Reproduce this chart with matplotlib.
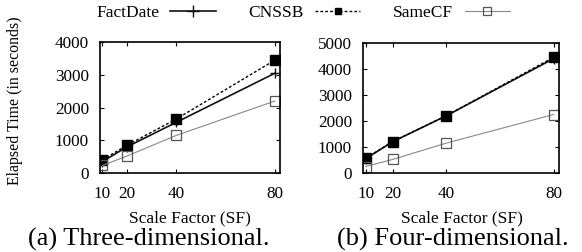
import numpy as np
import matplotlib as mpl
import matplotlib.pyplot as plt

mpl.rc('font', family='Liberation Serif')

# Data
scaleFactors = [10, 20, 40, 80]
factDate3d = [350, 800, 1550, 3050]
cnssb3d = [400, 850, 1650, 3450]
sameCF3d = [230, 520, 1150, 2200]
factDate4d = [550, 1200, 2200, 4400]
cnssb4d = [560, 1210, 2200, 4450]
sameCF4d = [250, 520, 1150, 2250]
yTicks3d = [0, 1000, 2000, 3000, 4000]
yTicks4d = [0, 1000, 2000, 3000, 4000, 5000]
captions = ["(a) Three-dimensional.", "(b) Four-dimensional."]

fig = plt.figure(figsize=(5.82, 2.52), dpi=100)
ax1 = fig.add_axes([100/582, 1-173/252, 180/582, 131/252])
ax2 = fig.add_axes([363/582, 1-173/252, 196/582, 130/252])

panels = [(ax1, factDate3d, cnssb3d, sameCF3d, yTicks3d),
          (ax2, factDate4d, cnssb4d, sameCF4d, yTicks4d)]

for ax, fd, cn, sc, yt in panels:
    ax.plot(scaleFactors, fd, c='#111111', lw=1.2, marker='+', ms=7, mew=1.0)
    ax.plot(scaleFactors, cn, c='black', lw=1.0, ls=(0, (2, 1.5)), marker='s', ms=6.5)
    ax.plot(scaleFactors, sc, c='#888888', lw=0.8, marker='s', ms=7, mfc='none', mec='#555555', mew=0.9)
    ax.set_xlim(9, 82)
    ax.set_ylim(0, yt[-1])
    ax.set_xticks(scaleFactors)
    ax.set_yticks(yt)
    ax.tick_params(direction='in', top=True, right=True, labelsize=12.3, length=3)
    ax.tick_params(axis='y', pad=8)
    ax.tick_params(axis='x', pad=9)
    for s in ax.spines.values():
        s.set_linewidth(1.2)

# axis labels and captions placed in figure coords
fig.text(15/582, 1-101/252, "Elapsed Time (in seconds)", rotation=90, ha='center', va='center', fontsize=11.4)
fig.text(190/582, 1-218/252, "Scale Factor (SF)", ha='center', va='center', fontsize=12.5)
fig.text(462/582, 1-218/252, "Scale Factor (SF)", ha='center', va='center', fontsize=12.5)
fig.text(149/582, 1-239/252, captions[0], ha='center', va='center', fontsize=19)
fig.text(453/582, 1-239/252, captions[1], ha='center', va='center', fontsize=19)

# legend handles
h1, = ax1.plot([], [], c='#111111', lw=1.2, marker='+', ms=8, mew=1.0, label='FactDate')
h2, = ax1.plot([], [], c='black', lw=1.0, ls=(0, (2, 1.5)), marker='s', ms=5, label='CNSSB')
h3, = ax1.plot([], [], c='#888888', lw=0.8, marker='s', ms=6, mfc='none', mec='#555555', mew=0.9, label='SameCF')
fig.legend(handles=[h1, h2, h3], loc='center', bbox_to_anchor=(303/582, 1-13/252), ncol=3, frameon=False,
           fontsize=12.5, markerfirst=False, handlelength=2.6, columnspacing=1.9, handletextpad=0.65,
           borderpad=0, borderaxespad=0)

fig.savefig('out.png', dpi=100)
